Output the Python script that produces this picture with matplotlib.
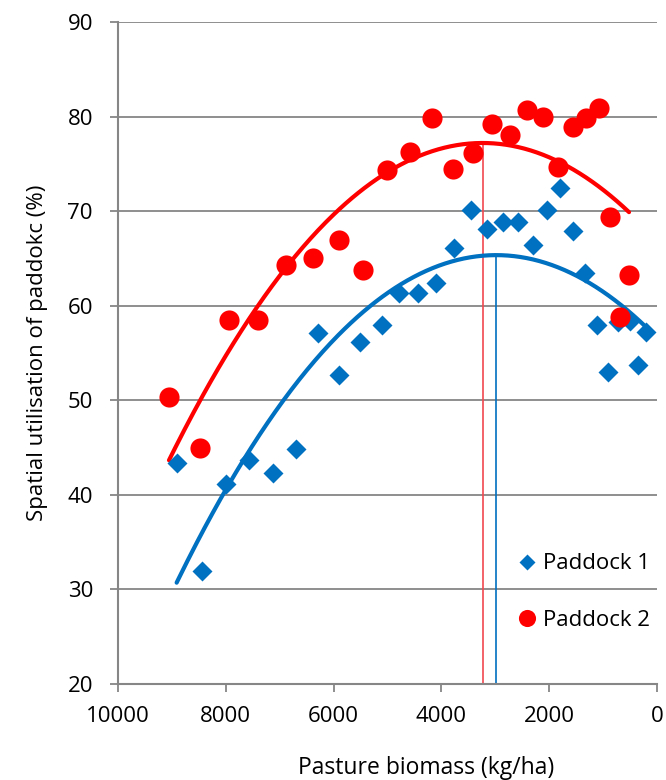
import numpy as np
import matplotlib
matplotlib.use("Agg")
import matplotlib.pyplot as plt

plt.rcParams['font.family'] = ['Open Sans', 'DejaVu Sans']

# Paddock 1 (blue diamonds)
p1_biomass = [8912, 8447, 7996, 7564, 7130, 6703, 6289, 5900, 5510, 5108,
              4781, 4440, 4100, 3766, 3451, 3148, 2851, 2573, 2307, 2047,
              1800, 1564, 1336, 1119, 903, 717, 501, 358, 204]
p1_util = [43.4, 31.9, 41.2, 43.7, 42.3, 44.8, 57.1, 52.7, 56.2, 58.0,
           61.3, 61.3, 62.4, 66.1, 70.1, 68.1, 68.8, 68.8, 66.4, 70.1,
           72.4, 67.9, 63.5, 58.0, 53.0, 58.3, 58.4, 53.7, 57.2]

# Paddock 2 (red circles)
p2_biomass = [9054, 8479, 7941, 7403, 6883, 6382, 5900, 5455, 5009, 4583,
              4174, 3785, 3414, 3061, 2727, 2412, 2115, 1837, 1558, 1317,
              1076, 872, 686, 519]
p2_util = [50.4, 45.0, 58.5, 58.5, 64.3, 65.0, 67.0, 63.8, 74.4, 76.3,
           79.8, 74.5, 76.2, 79.2, 78.1, 80.7, 80.0, 74.7, 78.9, 79.8,
           80.9, 69.4, 58.8, 63.3]

series_names = ['Paddock 1', 'Paddock 2']
x_ticks = [10000, 8000, 6000, 4000, 2000, 0]
y_ticks = [20, 30, 40, 50, 60, 70, 80, 90]

blue = '#0070C0'
red = '#FF0000'
grey = '#868686'

fig = plt.figure(figsize=(6.66, 7.80), dpi=100)
ax = fig.add_axes([118/666, 1 - 684/780, (657-118)/666, (684-22)/780])

for yt in y_ticks[1:]:
    ax.axhline(yt, color=grey, lw=1.3, zorder=0)

# trend lines (2nd-order polynomial, as in the spreadsheet chart)
for xs, ys, col, vcol in [(p1_biomass, p1_util, blue, blue),
                          (p2_biomass, p2_util, red, '#F0484F')]:
    xs = np.array(xs, float); ys = np.array(ys, float)
    c = np.polyfit(xs, ys, 2)
    xx = np.linspace(xs.min(), xs.max(), 300)
    ax.plot(xx, np.polyval(c, xx), color=col, lw=3.0, solid_capstyle='round', zorder=3)
    xv = -c[1] / (2 * c[0])
    ax.plot([xv, xv], [20, np.polyval(c, xv)], color=vcol, lw=1.2, zorder=2)

ax.plot(p1_biomass, p1_util, linestyle='none', marker='D', ms=10, color=blue,
        mec='none', label=series_names[0], zorder=4)
ax.plot(p2_biomass, p2_util, linestyle='none', marker='o', ms=14.5, color=red,
        mec='none', label=series_names[1], zorder=5)

ax.set_xlim(10000, 0)
ax.set_ylim(20, 90)
ax.set_xticks(x_ticks)
ax.set_yticks(y_ticks)
ax.tick_params(axis='both', direction='out', length=6, width=1.3, color=grey,
               labelsize=16)
ax.tick_params(axis='x', pad=10)
ax.tick_params(axis='y', pad=12)
for s in ['top', 'right']:
    ax.spines[s].set_visible(False)
for s in ['left', 'bottom']:
    ax.spines[s].set_color(grey)
    ax.spines[s].set_linewidth(1.5)

ax.set_xlabel('Pasture biomass (kg/ha)', fontsize=16.5)
ax.xaxis.set_label_coords(0.572, -0.109)
ax.set_ylabel('Spatial utilisation of paddokc (%)', fontsize=16, labelpad=14)

leg = ax.legend(loc='lower right', bbox_to_anchor=(1.025, 0.05), frameon=False,
                fontsize=16, handletextpad=0.15, markerscale=0.85,
                labelspacing=1.6, handlelength=1.2)

fig.savefig('out.png', dpi=100)
